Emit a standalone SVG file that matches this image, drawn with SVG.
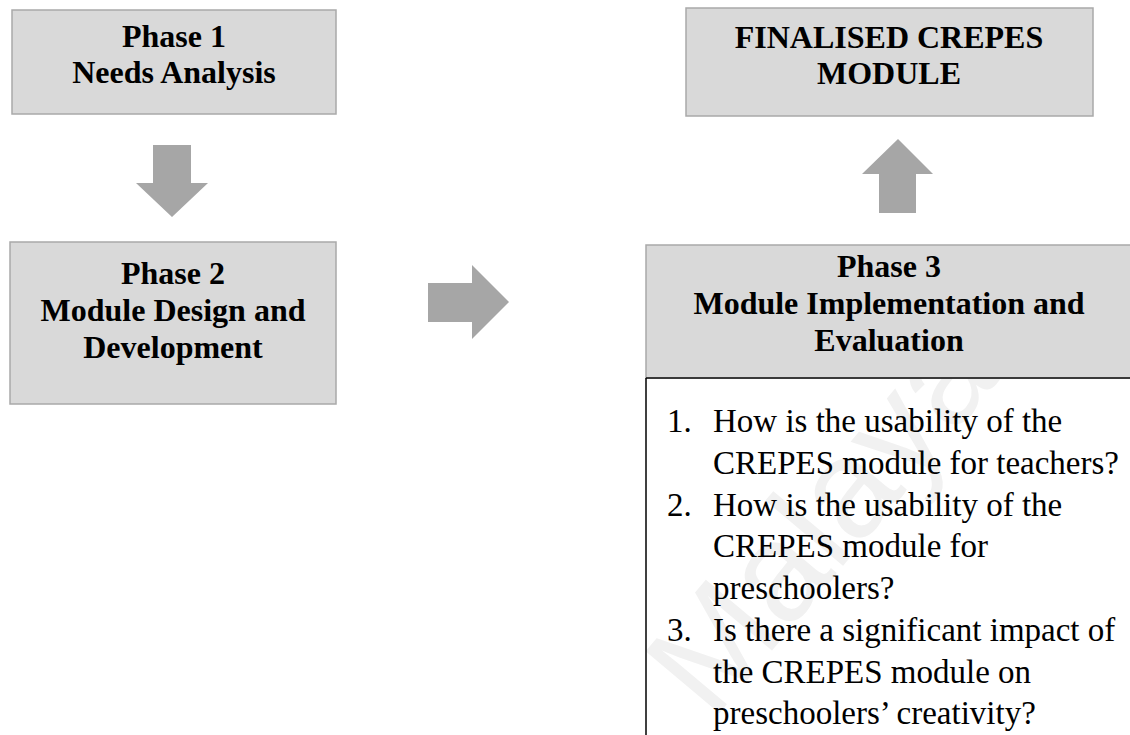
<svg xmlns="http://www.w3.org/2000/svg" width="1130" height="735" viewBox="0 0 1130 735">
  <style>
    .box { fill: #d9d9d9; stroke: #a9a9a9; stroke-width: 1.5; }
    .arrow { fill: #a6a6a6; }
    .head { font-family: "Liberation Serif", "Times New Roman", serif; font-weight: bold; font-size: 32px; fill: #000; text-anchor: middle; }
    .body { font-family: "Liberation Serif", "Times New Roman", serif; font-size: 33px; fill: #000; }
    .mark { font-family: "Liberation Sans", Arial, sans-serif; font-size: 140px; fill: #f1f1f1; }
  </style>
  <rect width="1130" height="735" fill="#ffffff"/>

  <!-- faint background watermark -->
  <text class="mark" transform="translate(712,722) rotate(-50)">Malaya</text>

  <g id="phase1">
    <rect class="box" x="12" y="10" width="324" height="104"/>
    <text class="head" x="174" y="47">Phase 1</text>
    <text class="head" x="174" y="83">Needs Analysis</text>
  </g>

  <g id="phase2">
    <rect class="box" x="10" y="242" width="326" height="162"/>
    <text class="head" x="173" y="284">Phase 2</text>
    <text class="head" x="173" y="321">Module Design and</text>
    <text class="head" x="173" y="358">Development</text>
  </g>

  <g id="final">
    <rect class="box" x="686" y="8" width="407" height="108"/>
    <text class="head" x="889" y="48">FINALISED CREPES</text>
    <text class="head" x="889" y="84">MODULE</text>
  </g>

  <g id="phase3">
    <rect class="box" x="646" y="245" width="490" height="133"/>
    <line x1="646" y1="378" x2="1132" y2="378" stroke="#3a3a3a" stroke-width="2"/>
    <line x1="646" y1="378" x2="646" y2="736" stroke="#000" stroke-width="1.5"/>
    <text class="head" x="889" y="277">Phase 3</text>
    <text class="head" x="889" y="314">Module Implementation and</text>
    <text class="head" x="889" y="351">Evaluation</text>
    <g class="body">
      <text x="667" y="432">1.</text>
      <text x="713" y="432">How is the usability of the</text>
      <text x="713" y="474">CREPES module for teachers?</text>
      <text x="667" y="516">2.</text>
      <text x="713" y="516">How is the usability of the</text>
      <text x="713" y="557">CREPES module for</text>
      <text x="713" y="599">preschoolers?</text>
      <text x="667" y="641">3.</text>
      <text x="713" y="641">Is there a significant impact of</text>
      <text x="713" y="683">the CREPES module on</text>
      <text x="713" y="724">preschoolers’ creativity?</text>
    </g>
  </g>

  <g id="connectors">
    <!-- phase 1 to phase 2 -->
    <polygon class="arrow" points="153,145 191,145 191,183 208,183 172,217 136,183 153,183"/>
    <!-- phase 2 to phase 3 -->
    <polygon class="arrow" points="428,283 472,283 472,265 509,302 472,339 472,322 428,322"/>
    <!-- phase 3 to finalised module -->
    <polygon class="arrow" points="879,213 916,213 916,174 933,174 898,139 862,174 879,174"/>
  </g>
</svg>
